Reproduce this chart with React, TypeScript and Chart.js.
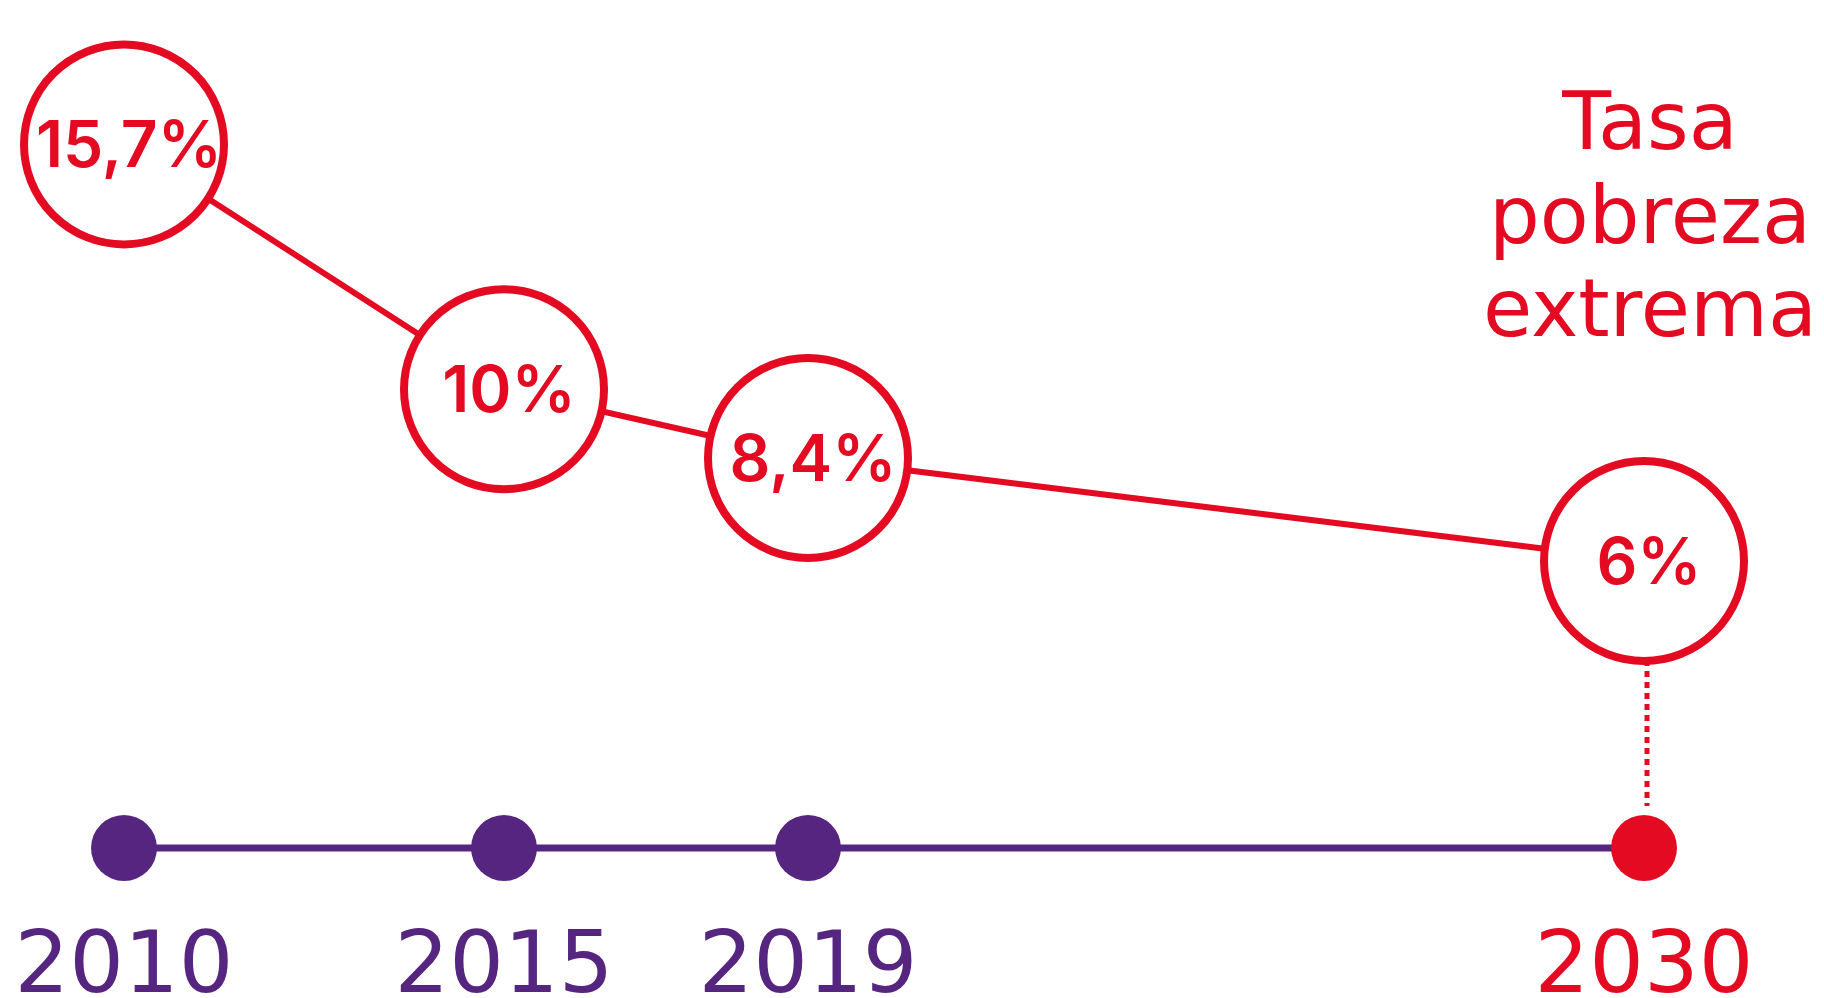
import React, { useEffect, useRef } from "react";
import { Chart, registerables } from "chart.js";

Chart.register(...registerables);

// ---- data ----
const years = [2010, 2015, 2019, 2030];
const yearLabels = ["2010", "2015", "2019", "2030"];
const povertyRate = [15.7, 10, 8.4, 6];
const titleLines = ["Tasa", "pobreza", "extrema"];
const highlightYear = 2030;

// ---- style ----
const RED = "#E30A22";
const PURPLE = "#562580";
const FONT = "'DejaVu Sans', Inter, sans-serif";
const LABEL_FONT = "Inter, 'Open Sans', sans-serif";

const fmt = (v: number) => String(v).replace(".", ",") + "%";

const overlayPlugin = {
  id: "overlay",
  beforeDatasetsDraw(chart: any) {
    const ctx = chart.ctx;
    const idx = years.indexOf(highlightYear);
    const a = chart.getDatasetMeta(0).data[idx];
    const b = chart.getDatasetMeta(1).data[idx];
    if (!a || !b) return;
    ctx.save();
    ctx.strokeStyle = RED;
    ctx.lineWidth = 5;
    ctx.setLineDash([6, 5]);
    ctx.beginPath();
    ctx.moveTo(a.x + 3, a.y);
    ctx.lineTo(b.x + 3, b.y - 42);
    ctx.stroke();
    ctx.restore();
  },
  afterDatasetsDraw(chart: any) {
    const ctx = chart.ctx;
    const meta = chart.getDatasetMeta(0);
    ctx.save();
    ctx.fillStyle = RED;
    ctx.textAlign = "center";
    ctx.textBaseline = "alphabetic";
    const size = 64;
    ctx.font = `600 ${size}px ${LABEL_FONT}`;
    meta.data.forEach((el: any, i: number) => {
      ctx.fillText(fmt(povertyRate[i]), el.x + 5, el.y + size * 0.36);
    });
    // title
    const x = chart.scales.x.getPixelForValue(highlightYear) + 6;
    ctx.font = `400 80px ${FONT}`;
    titleLines.forEach((t, i) => {
      ctx.fillText(t, x, 149 + i * 93.5);
    });
    ctx.restore();
  },
};

function App() {
  const ref = useRef<HTMLCanvasElement | null>(null);

  useEffect(() => {
    document.body.style.margin = "0";
    if (!ref.current) return;
    const chart = new Chart(ref.current, {
      type: "line",
      data: {
        datasets: [
          {
            label: "Tasa pobreza extrema",
            data: years.map((x, i) => ({ x, y: povertyRate[i] })),
            yAxisID: "y",
            borderColor: RED,
            borderWidth: 6,
            pointRadius: 100,
            pointHoverRadius: 100,
            pointBorderWidth: 8,
            pointHoverBorderWidth: 8,
            pointBackgroundColor: "#ffffff",
            pointBorderColor: RED,
            clip: false as any,
            order: 0,
          },
          {
            label: "Años",
            data: years.map((x) => ({ x, y: 0 })),
            yAxisID: "yt",
            borderColor: PURPLE,
            borderWidth: 7,
            pointRadius: 33,
            pointHoverRadius: 33,
            pointBorderWidth: 0,
            pointBackgroundColor: years.map((y) => (y === highlightYear ? RED : PURPLE)),
            pointBorderColor: years.map((y) => (y === highlightYear ? RED : PURPLE)),
            clip: false as any,
            order: 1,
          },
        ],
      },
      options: {
        animation: false,
        responsive: false,
        events: [],
        layout: { autoPadding: false, padding: { left: 124, right: 180, top: 92, bottom: 0 } },
        plugins: { legend: { display: false }, tooltip: { enabled: false } },
        scales: {
          x: {
            type: "linear",
            min: years[0],
            max: years[years.length - 1],
            afterBuildTicks: (s: any) => {
              s.ticks = years.map((v) => ({ value: v }));
            },
            afterFit: (s: any) => {
              s.height = 150;
              s.paddingLeft = 0;
              s.paddingRight = 0;
            },
            grid: { display: false, drawTicks: false },
            border: { display: false },
            ticks: {
              autoSkip: false,
              maxRotation: 0,
              padding: 70,
              font: { family: FONT, size: 86, weight: "400" as any },
              color: (c: any) => (c.tick && c.tick.value === highlightYear ? RED : PURPLE),
              callback: (v: any) => yearLabels[years.indexOf(Number(v))] ?? "",
            },
          },
          y: { type: "linear", min: -0.68, max: 16.92, display: false },
          yt: { type: "linear", min: 0, max: 1, display: false },
        },
      },
      plugins: [overlayPlugin],
    });
    return () => chart.destroy();
  }, []);

  return (
    <div style={{ width: 1824, height: 998, background: "#fff" }}>
      <canvas ref={ref} width={1824} height={998} />
    </div>
  );
}

export default App;
